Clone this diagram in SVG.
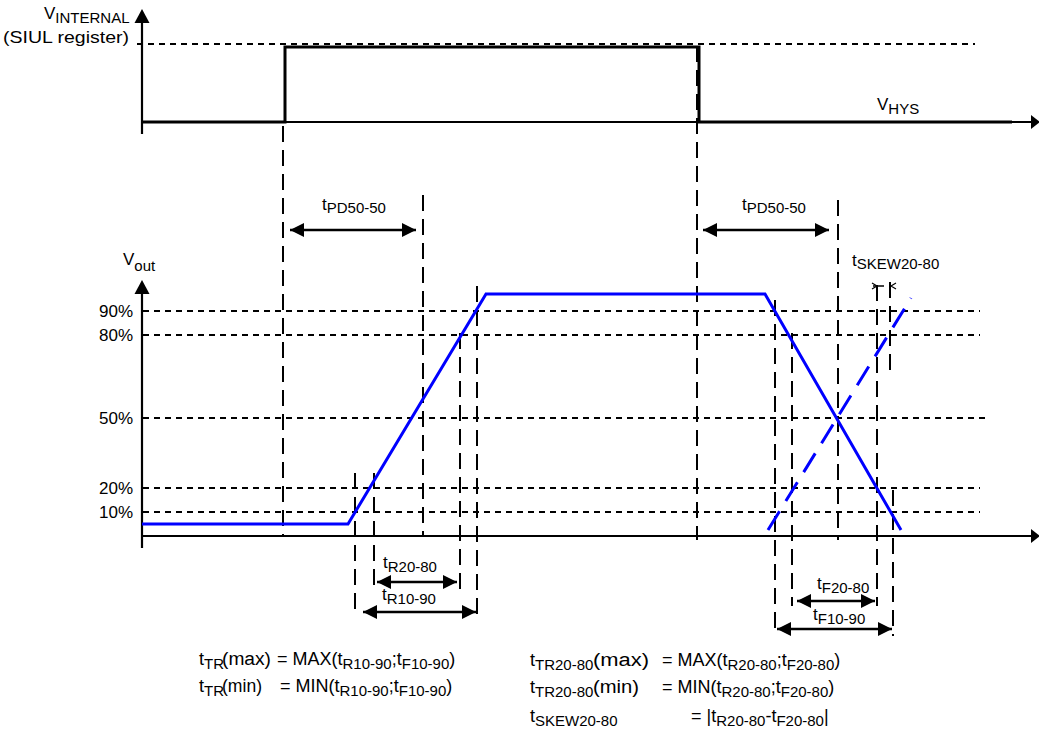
<svg xmlns="http://www.w3.org/2000/svg" width="1039" height="738" viewBox="0 0 1039 738">
<style>
text{font-family:"Liberation Sans",Arial,sans-serif;font-size:17px;fill:#000}
.sub{font-size:15px}
.eq{font-size:18px}
.ax{stroke:#000;stroke-width:2.2;fill:none}
.sig{stroke:#000;stroke-width:3;fill:none}
.hd{stroke:#000;stroke-width:1.8;stroke-dasharray:6 5;fill:none}
.vd{stroke:#000;stroke-width:2;stroke-dasharray:16 8;fill:none}
.blue{stroke:#0000ff;stroke-width:3;fill:none}
.bluedash{stroke:#0000ff;stroke-width:3;stroke-dasharray:22 12;fill:none}
.dim{stroke:#000;stroke-width:2.5;fill:none;marker-start:url(#ah);marker-end:url(#ah)}
</style>
<defs>
<marker id="ah" markerUnits="userSpaceOnUse" markerWidth="16" markerHeight="16" refX="14" refY="7" orient="auto-start-reverse" viewBox="0 0 16 14"><path d="M0,0 L14,7 L0,14 z" fill="#000"/></marker>
</defs>
<g id="top-chart">
<line class="hd" x1="137" y1="44" x2="975" y2="44"/>
<line class="ax" x1="142" y1="134" x2="142" y2="20"/>
<path d="M142,9 L134.5,23 L149.5,23 z" fill="#000"/>
<line class="ax" x1="142" y1="122" x2="1032" y2="122"/>
<path d="M1040,122 L1031,115 L1031,129 z" fill="#000"/>
<polyline class="sig" points="142,122 285,122 285,47 699,47 699,122 1012,122"/>
<text x="44" y="19" font-size="18">V<tspan class="sub" dy="4" font-size="14.5">INTERNAL</tspan></text>
<text x="3" y="43" textLength="126" lengthAdjust="spacingAndGlyphs">(SIUL register)</text>
<text x="877" y="110">V<tspan class="sub" dy="4">HYS</tspan></text>
</g>
<g id="bottom-chart">
<line class="hd" x1="143" y1="311" x2="980" y2="311"/>
<line class="hd" x1="143" y1="335" x2="980" y2="335"/>
<line class="hd" x1="143" y1="418" x2="985" y2="418"/>
<line class="hd" x1="143" y1="488" x2="980" y2="488"/>
<line class="hd" x1="143" y1="512" x2="980" y2="512"/>
<line class="ax" x1="142" y1="548" x2="142" y2="292"/>
<path d="M142,280 L134.5,294 L149.5,294 z" fill="#000"/>
<line class="ax" x1="142" y1="536" x2="1032" y2="536"/>
<path d="M1040,536 L1031,529 L1031,543 z" fill="#000"/>
<text x="123" y="265">V<tspan class="sub" dy="6">out</tspan></text>
<text x="133" y="317" text-anchor="end">90%</text>
<text x="133" y="341" text-anchor="end">80%</text>
<text x="133" y="424" text-anchor="end">50%</text>
<text x="133" y="494" text-anchor="end">20%</text>
<text x="133" y="518" text-anchor="end">10%</text>
</g>
<g id="connectors">
<line class="vd" x1="283" y1="126" x2="283" y2="536"/>
<line class="vd" x1="697" y1="46" x2="697" y2="540"/>
<line class="vd" x1="423" y1="195" x2="423" y2="536"/>
<line class="vd" x1="838" y1="200" x2="838" y2="540"/>
<line class="vd" x1="355" y1="473" x2="355" y2="616"/>
<line class="vd" x1="374" y1="473" x2="374" y2="590"/>
<line class="vd" x1="460" y1="333" x2="460" y2="590"/>
<line class="vd" x1="477" y1="286" x2="477" y2="618"/>
<line class="vd" x1="775" y1="300" x2="775" y2="633"/>
<line class="vd" x1="792" y1="333" x2="792" y2="606"/>
<line class="vd" x1="877" y1="285" x2="877" y2="606"/>
<line class="vd" x1="890" y1="282" x2="890" y2="372"/>
<line class="vd" x1="893" y1="490" x2="893" y2="636"/>
<polyline class="blue" points="142,524 348,524 486,294 765,294 901,530"/>
<line class="bluedash" x1="768" y1="530" x2="911" y2="298"/>
<line class="dim" x1="290" y1="230" x2="416" y2="230"/>
<line class="dim" x1="703" y1="230" x2="829" y2="230"/>
<line class="dim" x1="377" y1="582" x2="457" y2="582"/>
<line class="dim" x1="363" y1="612" x2="476" y2="612"/>
<line class="dim" x1="797" y1="601" x2="875" y2="601"/>
<line class="dim" x1="777" y1="629" x2="892" y2="629"/>
<line x1="873" y1="286" x2="884" y2="286" stroke="#000" stroke-width="1.5"/>
<polyline points="872,283 877,286 872,289" stroke="#000" stroke-width="1.2" fill="none"/>
<polyline points="896,283 891,286 896,289" stroke="#000" stroke-width="1.2" fill="none"/>
</g>
<g id="labels">
<text x="322" y="210" font-size="18">t<tspan class="sub" dy="3">PD50-50</tspan></text>
<text x="742" y="210" font-size="18">t<tspan class="sub" dy="3">PD50-50</tspan></text>
<text x="852" y="266" font-size="18">t<tspan class="sub" dy="3">SKEW20-80</tspan></text>
<text x="383" y="568" font-size="18">t<tspan class="sub" dy="4">R20-80</tspan></text>
<text x="382" y="600" font-size="18">t<tspan class="sub" dy="4">R10-90</tspan></text>
<text x="817" y="589" font-size="18">t<tspan class="sub" dy="4">F20-80</tspan></text>
<text x="813" y="620" font-size="18">t<tspan class="sub" dy="4">F10-90</tspan></text>
</g>
<g id="equations">
<text class="eq" x="199" y="665">t<tspan class="sub" dy="4">TR</tspan></text>
<text class="eq" x="222" y="665" textLength="49" lengthAdjust="spacingAndGlyphs">(max)</text>
<text class="eq" x="277" y="665">= MAX(t<tspan class="sub" dy="4">R10-90</tspan><tspan dy="-4">;t</tspan><tspan class="sub" dy="4">F10-90</tspan><tspan dy="-4">)</tspan></text>
<text class="eq" x="199" y="692">t<tspan class="sub" dy="4">TR</tspan></text>
<text class="eq" x="222" y="692" textLength="40" lengthAdjust="spacingAndGlyphs">(min)</text>
<text class="eq" x="280" y="692">= MIN(t<tspan class="sub" dy="4">R10-90</tspan><tspan dy="-4">;t</tspan><tspan class="sub" dy="4">F10-90</tspan><tspan dy="-4">)</tspan></text>
<text class="eq" x="530" y="666">t<tspan class="sub" dy="4">TR20-80</tspan></text>
<text class="eq" x="593" y="666" textLength="56" lengthAdjust="spacingAndGlyphs">(max)</text>
<text class="eq" x="662" y="666">= MAX(t<tspan class="sub" dy="4">R20-80</tspan><tspan dy="-4">;t</tspan><tspan class="sub" dy="4">F20-80</tspan><tspan dy="-4">)</tspan></text>
<text class="eq" x="530" y="693">t<tspan class="sub" dy="4">TR20-80</tspan></text>
<text class="eq" x="593" y="693" textLength="46" lengthAdjust="spacingAndGlyphs">(min)</text>
<text class="eq" x="662" y="693">= MIN(t<tspan class="sub" dy="4">R20-80</tspan><tspan dy="-4">;t</tspan><tspan class="sub" dy="4">F20-80</tspan><tspan dy="-4">)</tspan></text>
<text class="eq" x="530" y="722">t<tspan class="sub" dy="4">SKEW20-80</tspan></text>
<text class="eq" x="691" y="722">= |t<tspan class="sub" dy="4">R20-80</tspan><tspan dy="-4">-t</tspan><tspan class="sub" dy="4">F20-80</tspan><tspan dy="-4">|</tspan></text>
</g>
</svg>
